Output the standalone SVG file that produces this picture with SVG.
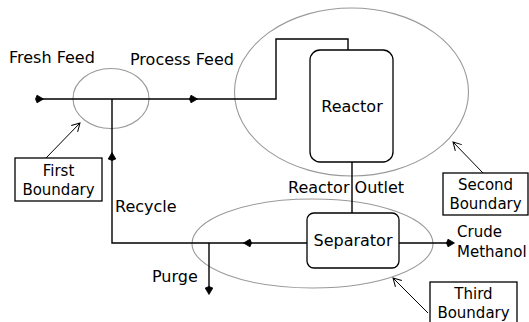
<svg xmlns="http://www.w3.org/2000/svg" xmlns:xlink="http://www.w3.org/1999/xlink" width="529" height="322" viewBox="0 0 529 322">
<style>
text{font-family:"DejaVu Sans","Liberation Sans",sans-serif;font-size:16px;fill:#000}
.mid{text-anchor:middle}
.lbl{font-size:15px}
.flow{fill:none;stroke:#000;stroke-width:1.4}
.bound{fill:none;stroke:#999;stroke-width:1.1}
.box{fill:#fff;stroke:#000;stroke-width:1.3}
.call{fill:none;stroke:#000;stroke-width:1}
</style>
<defs>
<path id="ah" d="M4.5,0 L-2,-3.8 L-3.5,0 L-2,3.8 Z" fill="#000" stroke="#000" stroke-width="0.8" stroke-linejoin="round"/>
<marker id="open" viewBox="-10 -6 12 12" markerWidth="12" markerHeight="12" refX="0" refY="0" orient="auto" markerUnits="userSpaceOnUse">
<path d="M-8,-4.5 L0,0 L-8,4.5" fill="none" stroke="#000" stroke-width="1"/>
</marker>
</defs>
<rect width="529" height="322" fill="#fff"/>
<g id="boundaries">
<ellipse id="first-boundary" class="bound" cx="111" cy="98.5" rx="38" ry="30"/>
<ellipse id="second-boundary" class="bound" cx="351.5" cy="92" rx="117" ry="84"/>
<ellipse id="third-boundary" class="bound" cx="312.5" cy="243.5" rx="120.5" ry="44.5"/>
</g>
<g id="reactor">
<rect class="box" x="310" y="50" width="83" height="112" rx="10"/>
<text class="mid" x="352" y="112">Reactor</text>
</g>
<g id="separator">
<rect class="box" x="307" y="213" width="92" height="55" rx="7"/>
<text class="mid" x="353" y="246">Separator</text>
</g>
<g id="first-boundary-label">
<rect class="box" x="15" y="158" width="87" height="43"/>
<text class="mid lbl" x="58.5" y="176">First</text>
<text class="mid lbl" x="58.5" y="195">Boundary</text>
</g>
<g id="second-boundary-label">
<rect class="box" x="443" y="173" width="85" height="42"/>
<text class="mid lbl" x="485.5" y="190">Second</text>
<text class="mid lbl" x="485.5" y="209">Boundary</text>
</g>
<g id="third-boundary-label">
<rect class="box" x="430" y="282" width="87" height="45"/>
<text class="mid lbl" x="473.5" y="299">Third</text>
<text class="mid lbl" x="473.5" y="318">Boundary</text>
</g>
<g id="labels">
<text x="9" y="63">Fresh Feed</text>
<text x="130" y="65">Process Feed</text>
<text x="288" y="193">Reactor Outlet</text>
<text x="115" y="212">Recycle</text>
<text x="152" y="282">Purge</text>
<text class="lbl" x="457" y="237">Crude</text>
<text class="lbl" x="457" y="257">Methanol</text>
</g>
<g id="connectors">
<path class="flow" d="M36,99 H276 V39 H348 V50"/>
<path class="flow" d="M112,99 V243 H307"/>
<path class="flow" d="M209,243 V291"/>
<path class="flow" d="M352,162 V213"/>
<path class="flow" d="M399,243 H450"/>
<use xlink:href="#ah" transform="translate(39,99)"/>
<use xlink:href="#ah" transform="translate(193,99)"/>
<use xlink:href="#ah" transform="translate(112,157) rotate(-90)"/>
<use xlink:href="#ah" transform="translate(248,243) rotate(180)"/>
<use xlink:href="#ah" transform="translate(209,290) rotate(90)"/>
<use xlink:href="#ah" transform="translate(450,243)"/>
<line class="call" x1="46" y1="158" x2="80" y2="123" marker-end="url(#open)"/>
<line class="call" x1="483" y1="173" x2="453" y2="142" marker-end="url(#open)"/>
<line class="call" x1="428" y1="313" x2="393" y2="278" marker-end="url(#open)"/>
</g>
</svg>
